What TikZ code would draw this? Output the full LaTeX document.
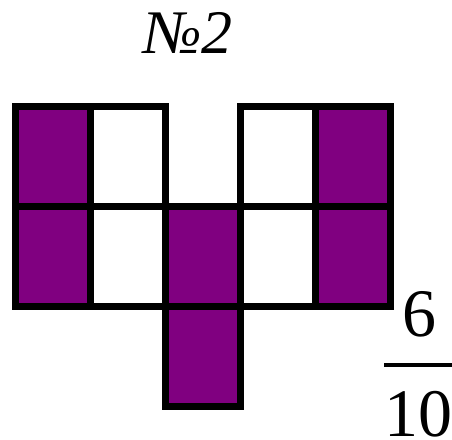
\documentclass[tikz,border=0pt]{standalone}
\usepackage{fontspec}
\setmainfont{Liberation Serif}
\definecolor{cellpurple}{RGB}{128,0,128}
\begin{document}
\begin{tikzpicture}[x=1pt,y=-1pt,
  cell/.style={draw=black,line width=7pt,minimum width=75pt,minimum height=100pt,
    inner sep=0pt,outer sep=0pt,anchor=north west,fill=white},
  filled/.style={cell,fill=cellpurple},
  bigtext/.style={inner sep=0pt,anchor=base,text depth=0pt,font=\fontsize{68}{68}\selectfont}]
\useasboundingbox (0,0) rectangle (452,439);
% row 1
\node[filled] (c11) at (15,106) {};
\node[cell]   (c12) at (90,106) {};
\node[cell]   (c14) at (240,106) {};
\node[filled] (c15) at (315,106) {};
% row 2
\node[filled] (c21) at (15,206) {};
\node[cell]   (c22) at (90,206) {};
\node[filled] (c23) at (165,206) {};
\node[cell]   (c24) at (240,206) {};
\node[filled] (c25) at (315,206) {};
% row 3
\node[filled] (c33) at (165,306) {};
% title
\node[inner sep=0pt,anchor=base,font=\fontsize{62}{62}\selectfont\itshape] (title) at (188,53) {№2};
% fraction
\node[bigtext] (num) at (419,336) {6};
\node[bigtext] (den) at (418,436) {10};
\draw[line width=4pt] (384,365.3) -- (452,365.3);
\end{tikzpicture}
\end{document}
